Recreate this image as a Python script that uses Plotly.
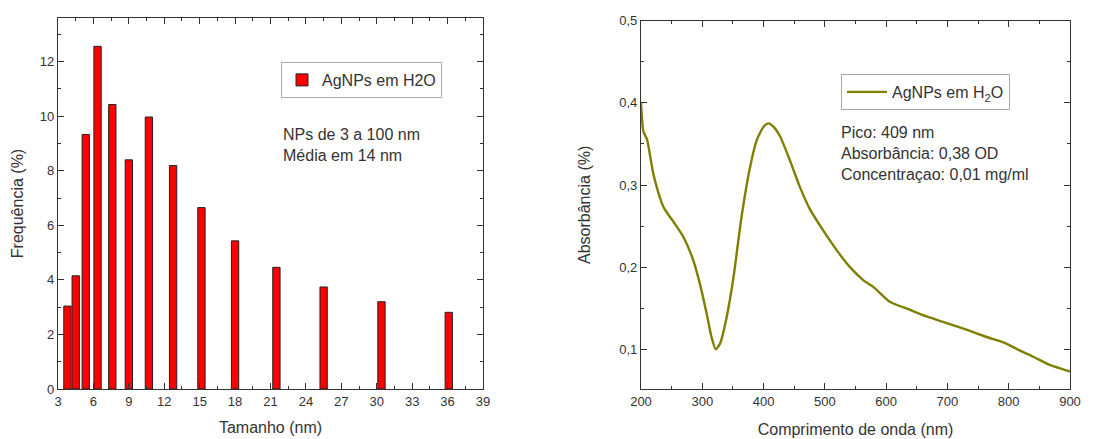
import plotly.graph_objects as go

# Histogram (left)
sizes = [3.8, 4.5, 5.35, 6.35, 7.6, 9.0, 10.7, 12.75, 15.15, 18.0, 21.5, 25.5, 30.4, 36.1]
freq = [3.04, 4.15, 9.33, 12.56, 10.43, 8.4, 9.97, 8.19, 6.65, 5.43, 4.46, 3.74, 3.2, 2.81]
x_ticks = [3, 6, 9, 12, 15, 18, 21, 24, 27, 30, 33, 36, 39]

# UV-Vis spectrum (right)
wavelength = [200, 204, 210, 220, 234, 239, 255, 269, 285, 296, 307, 315, 322, 329, 340, 351,
              364, 378, 389, 400, 408, 416, 427, 443, 459, 476, 497, 519, 541, 563, 579, 606,
              639, 666, 699, 731, 764, 796, 817, 840, 867, 900]
absorb = [0.400, 0.365, 0.355, 0.314, 0.278, 0.270, 0.253, 0.237, 0.209, 0.180, 0.144, 0.115,
          0.100, 0.107, 0.140, 0.188, 0.261, 0.322, 0.355, 0.371, 0.375, 0.371, 0.359, 0.330,
          0.298, 0.270, 0.245, 0.221, 0.200, 0.184, 0.176, 0.158, 0.148, 0.140, 0.132, 0.124,
          0.115, 0.107, 0.099, 0.091, 0.081, 0.073]

# page body has an 8px margin; size the figure to fit the window
OFF = 8
W, H = 1115 - OFF, 439 - OFF
FONT = "Arial, Liberation Sans, sans-serif"


def px(x):
    return (x - OFF) / W


def py(y):
    return 1 - (y - OFF) / H


fig = go.Figure()
fig.add_trace(go.Bar(x=sizes, y=freq, width=0.62, name="AgNPs em H2O",
                     marker=dict(color="#ff0000", line=dict(color="#222222", width=1)),
                     xaxis="x", yaxis="y", legend="legend"))
fig.add_trace(go.Scatter(x=wavelength, y=absorb, mode="lines", name="AgNPs em H<sub>2</sub>O",
                         line=dict(color="#7f7f00", width=2.4, shape="spline", smoothing=0.6),
                         xaxis="x2", yaxis="y2", legend="legend2"))

axis_common = dict(showline=True, linecolor="#333333", linewidth=1.2, mirror="allticks",
                   ticks="inside", ticklen=6, tickcolor="#333333", showgrid=False, zeroline=False,
                   tickfont=dict(family=FONT, size=13, color="#333333"), automargin=False,
                   title_font=dict(family=FONT, size=16, color="#333333"))

fig.update_layout(
    width=W, height=H, margin=dict(l=0, r=0, t=0, b=0),
    paper_bgcolor="white", plot_bgcolor="white",
    separators=",.",
    font=dict(family=FONT, color="#333333"),
    xaxis=dict(domain=[px(58), px(483)], range=[3, 39], tickvals=x_ticks,
               minor=dict(ticks="inside", ticklen=3, dtick=1.5, tick0=3, tickcolor="#333333"),
               title=dict(text="Tamanho (nm)", standoff=14), anchor="y", **axis_common),
    yaxis=dict(domain=[py(389), py(18)], range=[0, 13.6], dtick=2, tick0=0,
               minor=dict(ticks="inside", ticklen=3, dtick=1, tickcolor="#333333"),
               title=dict(text="Frequência (%)", standoff=12), anchor="x", **axis_common),
    xaxis2=dict(domain=[px(641), px(1070)], range=[200, 900], dtick=100, tick0=200,
                minor=dict(ticks="inside", ticklen=3, dtick=50, tickcolor="#333333"),
                title=dict(text="Comprimento de onda (nm)", standoff=16), anchor="y2", **axis_common),
    yaxis2=dict(domain=[py(389), py(20.7)], range=[0.0517, 0.5], dtick=0.1, tick0=0,
                tickformat=".1f",
                minor=dict(ticks="inside", ticklen=3, dtick=0.05, tick0=0, tickcolor="#333333"),
                title=dict(text="Absorbância (%)", standoff=24), anchor="x2", **axis_common),
    legend=dict(x=px(281), y=py(62), xanchor="left", yanchor="top",
                bgcolor="white", bordercolor="#aaaaaa", borderwidth=1,
                font=dict(family=FONT, size=16, color="#333333"),
                itemwidth=30, tracegroupgap=0),
    legend2=dict(x=px(841), y=py(74), xanchor="left", yanchor="top",
                 bgcolor="white", bordercolor="#aaaaaa", borderwidth=1,
                 font=dict(family=FONT, size=16, color="#333333"),
                 itemwidth=40),
    showlegend=True,
)

annotations = [
    dict(text="NPs de 3 a 100 nm<br>Média em 14 nm", x=px(281), y=py(124)),
    dict(text="Pico: 409 nm<br>Absorbância: 0,38 OD<br>Concentraçao: 0,01 mg/ml", x=px(839), y=py(122)),
]
for a in annotations:
    fig.add_annotation(xref="paper", yref="paper", xanchor="left", yanchor="top", showarrow=False,
                       align="left", font=dict(family=FONT, size=16, color="#333333"), **a)

fig.write_html("out.html")
